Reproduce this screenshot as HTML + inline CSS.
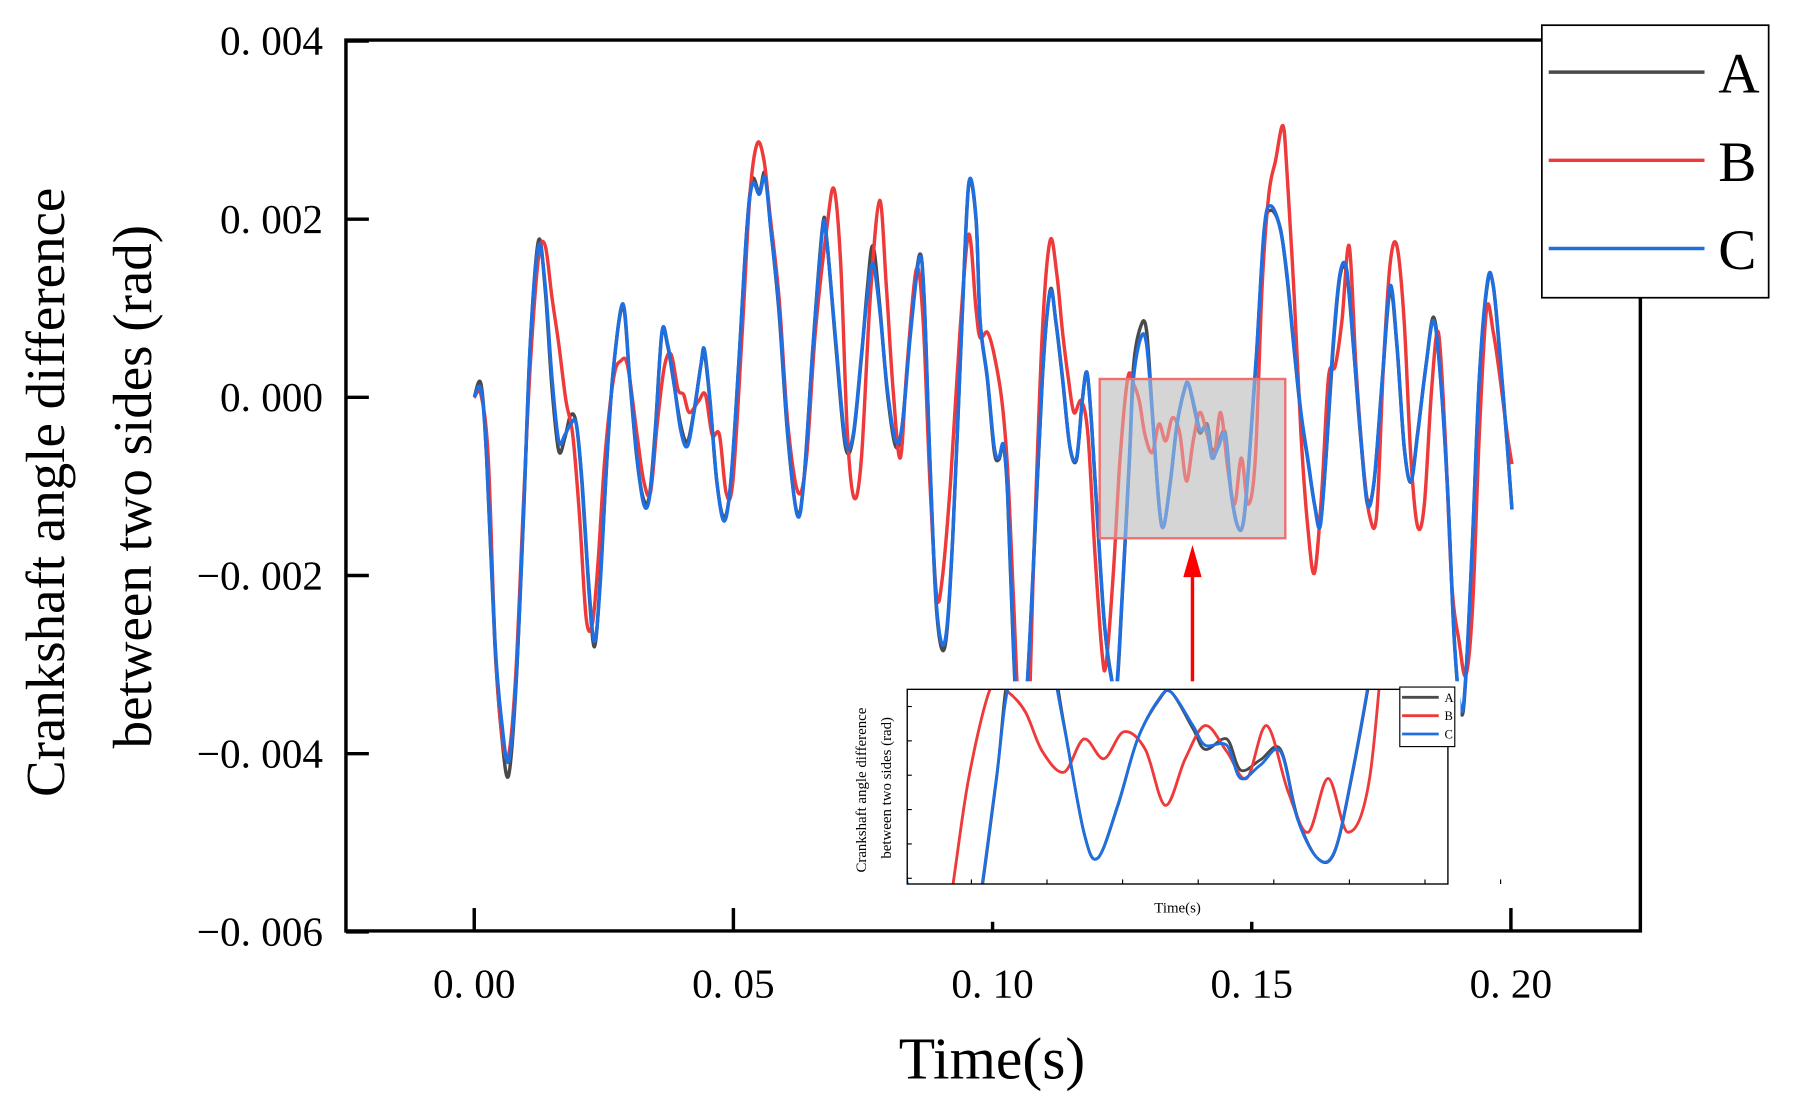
<!DOCTYPE html>
<html><head><meta charset="utf-8"><style>
html,body{margin:0;padding:0;background:#fff;overflow:hidden;width:1795px;height:1105px;}
svg{display:block;}
text{font-family:"Liberation Serif",serif;fill:#000;}
</style></head><body>
<svg id="chart" width="1795" height="1105" viewBox="0 0 1567 965" preserveAspectRatio="none" xmlns="http://www.w3.org/2000/svg">
<defs>
<clipPath id="plotClip"><rect x="302" y="35" width="1130" height="778"/></clipPath>
<clipPath id="insetClip"><rect x="792" y="602" width="472" height="170"/></clipPath>
</defs>
<g id="main"></g>
<g id="inset"></g>
</svg>
<script>
const timesAC=[0,1.3,2.4,4.0,5.3,6.6,8.0,9.5,10.8,12.4,13.7,15.0,16.3,17.5,18.6,19.7,20.8,22.1,23.2,24.3,25.6,26.9,28.7,30.0,31.4,32.7,33.8,34.9,36.2,37.3,38.4,39.8,41.1,42.4,43.7,44.4,45.5,46.8,48.2,49.5,51.0,52.6,53.7,55.0,56.1,57.2,58.8,60.5,62.3,63.6,65.4,67.2,68.0,69.8,71.6,73.1,74.7,75.8,76.9,78.2,79.7,81.3,82.6,84.2,85.9,86.8,87.9,89.2,90.8,92.3,94.1,95.4,96.8,97.6,99.0,100.3,101.2,102.1,102.9,104.0,105.2,106.5,107.8,109.6,111.1,112.2,113.5,114.9,116.2,117.3,118.2,119.1,120.2,121.5,122.8,123.9,125.0,126.4,127.2,128.6,129.7,130.8,132.1,133.0,134.3,135.6,137.0,137.8,139.2,140.0,141.4,142.3,143.6,144.9,146.0,147.3,148.4,149.5,150.9,152.4,153.7,155.5,156.8,158.1,159.5,160.8,162.1,163.2,164.3,165.7,167.0,168.3,169.6,171.0,172.3,173.6,175.2,176.7,178.0,179.4,180.7,182.0,183.6,185.1,186.4,187.8,189.1,190.4,191.3,192.6,193.9,195.5,196.6,197.9,199.3,200.2];
const seriesC=[0,0.09,-0.68,-2.74,-3.64,-4.09,-3.26,-1.32,0.60,1.70,1.25,0.22,-0.49,-0.42,-0.30,-0.30,-0.94,-2.10,-2.74,-2.10,-0.68,0.35,1.05,0.22,-0.68,-1.20,-1.13,-0.42,0.73,0.60,0.22,-0.36,-0.55,-0.17,0.35,0.54,-0.04,-0.94,-1.39,-0.94,0.35,1.89,2.40,2.28,2.47,1.89,0.99,-0.42,-1.32,-0.94,0.60,1.89,1.76,0.60,-0.49,-0.42,0.48,1.12,1.50,0.99,0.09,-0.49,-0.30,0.73,1.57,1.12,-0.68,-2.35,-2.74,-1.58,0.86,2.40,2.02,0.86,0.22,-0.55,-0.68,-0.53,-1.07,-2.74,-4.02,-3.38,-1.97,0.22,1.18,0.86,0.22,-0.55,-0.68,-0.04,0.28,-0.30,-1.32,-2.48,-3.12,-3.25,-2.22,-0.68,0.22,0.67,0.60,-0.17,-1.20,-1.45,-0.94,-0.30,0.09,0.15,-0.17,-0.36,-0.36,-0.68,-0.55,-0.42,-1.07,-1.45,-1.39,-0.68,0.48,1.89,2.15,1.89,1.38,0.60,-0.17,-0.68,-1.20,-1.45,-0.68,0.60,1.38,1.44,0.60,-0.42,-1.20,-0.94,0.22,1.25,0.60,-0.55,-0.94,-0.42,0.35,0.86,0.22,-1.07,-2.74,-3.51,-3.12,-1.58,0.22,1.31,1.25,0.48,-0.55,-1.26];
const seriesA=[0,0.15,-0.70,-2.80,-3.80,-4.25,-3.30,-1.35,0.58,1.76,1.20,0.10,-0.60,-0.45,-0.20,-0.30,-0.98,-2.15,-2.80,-2.05,-0.70,0.35,1.02,0.20,-0.70,-1.15,-1.10,-0.38,0.72,0.58,0.20,-0.30,-0.50,-0.15,0.35,0.50,-0.06,-0.95,-1.35,-0.95,0.35,1.90,2.45,2.30,2.52,1.90,0.95,-0.45,-1.30,-0.92,0.62,1.92,1.78,0.55,-0.55,-0.45,0.45,1.20,1.70,1.05,0.05,-0.55,-0.30,0.80,1.60,1.10,-0.70,-2.40,-2.80,-1.60,0.85,2.38,2.00,0.85,0.20,-0.60,-0.70,-0.55,-1.10,-2.80,-4.05,-3.40,-2.00,0.20,1.20,0.85,0.20,-0.55,-0.70,-0.04,0.28,-0.30,-1.35,-2.50,-3.10,-3.30,-2.25,-0.70,0.35,0.80,0.75,-0.15,-1.20,-1.45,-0.95,-0.30,0.08,0.15,-0.20,-0.40,-0.30,-0.60,-0.50,-0.40,-1.05,-1.45,-1.40,-0.70,0.45,1.85,2.10,1.90,1.35,0.58,-0.20,-0.70,-1.20,-1.40,-0.70,0.55,1.35,1.40,0.58,-0.45,-1.15,-0.95,0.20,1.20,0.58,-0.55,-0.95,-0.40,0.35,0.90,0.25,-1.05,-2.75,-3.55,-3.15,-1.60,0.20,1.28,1.25,0.45,-0.55,-1.25];
const timesB=[0,1.3,2.7,4.0,5.3,6.6,8.0,9.5,10.8,12.4,13.7,15.0,16.3,17.7,19.0,20.3,21.6,22.8,23.9,25.2,26.9,28.3,29.6,31.4,32.7,34.0,35.3,36.7,38.0,39.3,40.4,41.5,43.3,44.6,45.9,47.3,48.6,49.9,51.7,53.2,54.6,55.9,57.0,58.8,60.5,62.5,64.1,65.8,68.0,69.4,70.7,72.0,73.3,74.7,76.4,78.2,79.5,80.8,82.2,83.5,85.3,86.6,87.9,89.2,90.3,91.9,93.7,95.4,96.8,97.6,99.0,100.3,101.8,102.9,104.0,105.2,106.5,108.0,109.6,111.1,112.4,113.5,114.6,115.7,117.1,118.4,119.7,121.1,121.9,123.3,124.6,126.1,127.2,128.3,129.4,130.8,132.1,133.4,134.7,136.1,137.4,138.7,140.0,141.4,142.7,144.0,145.4,146.7,148.0,149.3,150.7,152.0,153.3,154.6,156.0,156.8,158.2,159.5,160.8,162.1,163.5,164.8,166.1,167.4,168.8,170.1,171.4,172.7,174.1,175.4,176.7,178.0,179.4,180.7,182.0,183.3,184.7,186.0,187.3,188.6,190.0,191.3,192.6,193.9,195.3,196.6,197.9,199.3,200.2];
const seriesB=[0,0.03,-0.68,-2.74,-3.77,-4.02,-3.12,-1.19,0.35,1.57,1.70,1.12,0.60,-0.04,-0.42,-1.32,-2.48,-2.54,-1.84,-0.68,0.22,0.41,0.35,-0.42,-0.94,-1.07,-0.30,0.35,0.48,0.09,0.03,-0.17,-0.04,0.03,-0.42,-0.42,-1.07,-0.94,0.73,2.28,2.85,2.66,2.08,1.12,-0.30,-1.07,-0.68,0.73,1.89,2.34,1.50,-0.42,-1.13,-0.68,1.12,2.21,1.25,0.09,-0.68,0.35,1.44,0.86,-0.94,-2.22,-2.03,-0.94,0.73,1.83,0.99,0.67,0.73,0.48,-0.04,-0.81,-2.22,-3.77,-4.40,-1.71,0.73,1.76,1.38,0.73,0.22,-0.17,-0.04,-0.42,-1.71,-2.86,-2.99,-1.97,-0.68,0.22,0.15,-0.04,-0.42,-0.62,-0.30,-0.49,-0.23,-0.40,-0.94,-0.49,-0.17,-0.42,-0.68,-0.17,-0.81,-1.20,-0.68,-1.20,-0.68,1.25,2.28,2.66,3.05,2.53,1.12,-0.42,-1.45,-1.97,-1.07,0.22,0.35,0.86,1.70,0.35,-0.68,-1.32,-1.32,0.35,1.50,1.70,0.86,-0.68,-1.45,-1.20,0.09,0.73,-0.42,-2.10,-2.74,-3.12,-2.36,-0.42,0.99,0.73,0.22,-0.42,-0.75];
const xTicks=[0,50,100,150,200];
const xTickLabels=["0. 00","0. 05","0. 10","0. 15","0. 20"];
const yTicks=[4,2,0,-2,-4,-6];
const yTickLabels=["0. 004","0. 002","0. 000","\u22120. 002","\u22120. 004","\u22120. 006"];
const legendNames=["A","B","C"];
const colors={A:"#4a4a4a",B:"#ee3a3a",C:"#1f6fe0"};

const NS="http://www.w3.org/2000/svg";
function mk(tag,attrs,parent){const e=document.createElementNS(NS,tag);for(const k in attrs)e.setAttribute(k,attrs[k]);parent.appendChild(e);return e;}
function pathFrom(ts,vs,sx,sy){
  const n=Math.min(ts.length,vs.length);const p=[];
  for(let i=0;i<n;i++)p.push([sx(ts[i]),sy(vs[i])]);
  let d="M"+p[0][0].toFixed(2)+","+p[0][1].toFixed(2);
  for(let i=0;i<n-1;i++){
    const p0=p[Math.max(0,i-1)],p1=p[i],p2=p[i+1],p3=p[Math.min(n-1,i+2)];
    const c1=[p1[0]+(p2[0]-p0[0])/6,p1[1]+(p2[1]-p0[1])/6];
    const c2=[p2[0]-(p3[0]-p1[0])/6,p2[1]-(p3[1]-p1[1])/6];
    d+=" C"+c1[0].toFixed(2)+","+c1[1].toFixed(2)+" "+c2[0].toFixed(2)+","+c2[1].toFixed(2)+" "+p2[0].toFixed(2)+","+p2[1].toFixed(2);
  }
  return d;
}
const X0=302,X1=1432,Y0=35,Y1=813;
const sx=t=>414+(t-0)*(1319-414)/200;
const sy=v=>347-(v)*(813-35)/10;
const main=document.getElementById('main');

const hl=mk('rect',{x:960,y:331,width:162,height:139,fill:'#d4d4d4',stroke:'#f07070','stroke-width':2},main);



const gS=mk('g',{'clip-path':'url(#plotClip)'},main);


const sA=mk('path',{d:pathFrom(timesAC,seriesA,sx,sy),fill:'none',stroke:colors.A,'stroke-width':3},gS);


const sB=mk('path',{d:pathFrom(timesB,seriesB,sx,sy),fill:'none',stroke:colors.B,'stroke-width':3},gS);


const sC=mk('path',{d:pathFrom(timesAC,seriesC,sx,sy),fill:'none',stroke:colors.C,'stroke-width':3},gS);



const hl2=mk('rect',{x:960,y:331,width:162,height:139,fill:'#d8d8d8','fill-opacity':0.45,stroke:'#f07070','stroke-width':2},main);



const fr=mk('path',{d:`M${X0},${Y0} L${X1},${Y0} L${X1},${Y1} L${X0},${Y1} Z`,fill:'none',stroke:'#000','stroke-width':3},main);


xTicks.forEach((t,i)=>{
  const tk=mk('line',{x1:sx(t),x2:sx(t),y1:Y1,y2:Y1-20,stroke:'#000','stroke-width':3},main);
  
  
  const lb=mk('text',{x:sx(t),y:871,'text-anchor':'middle','font-size':36},main);
  lb.textContent=xTickLabels[i];
  
  
});
yTicks.forEach((v,i)=>{
  const tk=mk('line',{x1:X0,x2:X0+20,y1:sy(v),y2:sy(v),stroke:'#000','stroke-width':3},main);
  
  
  const lb=mk('text',{x:282,y:sy(v)+12,'text-anchor':'end','font-size':36},main);
  lb.textContent=yTickLabels[i];
  
  
});
const xt=mk('text',{x:866,y:942,'text-anchor':'middle','font-size':52},main);
xt.textContent="Time(s)";


const yt1=mk('text',{x:0,y:0,'text-anchor':'middle','font-size':48,transform:'translate(56,430) rotate(-90)'},main);
yt1.textContent="Crankshaft angle difference";


const yt2=mk('text',{x:0,y:0,'text-anchor':'middle','font-size':48,transform:'translate(132,425) rotate(-90)'},main);
yt2.textContent="between two sides (rad)";



const lg=mk('g',{},main);


mk('rect',{x:1346,y:22,width:198,height:238,fill:'#fff',stroke:'#000','stroke-width':1.5},lg);
legendNames.forEach((n,i)=>{
  const y=63+i*77;
  const ln=mk('line',{x1:1352,x2:1488,y1:y,y2:y,stroke:colors[n],'stroke-width':3},lg);
  
  
  const tx=mk('text',{x:1500,y:y+18,'font-size':50},lg);
  tx.textContent=n;
  
  
});

const ar=mk('line',{x1:1041,x2:1041,y1:602,y2:500,stroke:'#ff0000','stroke-width':3},main);


const ah=mk('polygon',{points:'1041,476 1033,504 1049,504',fill:'#ff0000'},main);



const inset=document.getElementById('inset');
const IX0=792,IX1=1264,IY0=602,IY1=772;
mk('rect',{x:735,y:595,width:540,height:210,fill:'#fff'},inset);
const isx=t=>IX0+(t-120.6)*(IX1-IX0)/35.2;
const isy=v=>IY0+(0.18-v)*(IY1-IY0)/1.88;
const gI=mk('g',{'clip-path':'url(#insetClip)'},inset);
const iA=mk('path',{d:pathFrom(timesAC,seriesA,isx,isy),fill:'none',stroke:colors.A,'stroke-width':2.5},gI);


const iB=mk('path',{d:pathFrom(timesB,seriesB,isx,isy),fill:'none',stroke:colors.B,'stroke-width':2.5},gI);


const iC=mk('path',{d:pathFrom(timesAC,seriesC,isx,isy),fill:'none',stroke:colors.C,'stroke-width':2.5},gI);


const ifr=mk('rect',{x:IX0,y:IY0,width:IX1-IX0,height:IY1-IY0,fill:'none',stroke:'#000','stroke-width':1.2},inset);


for(let k=0;k<8;k++){const x=IX0+56+k*66;mk('line',{x1:x,x2:x,y1:IY1,y2:IY1-4,stroke:'#000','stroke-width':1},inset);}
for(let k=0;k<6;k++){const y=IY0+15+k*30;mk('line',{x1:IX0,x2:IX0+4,y1:y,y2:y,stroke:'#000','stroke-width':1},inset);}
const ixt=mk('text',{x:1028,y:797,'text-anchor':'middle','font-size':13},inset);
ixt.textContent="Time(s)";


const iy1=mk('text',{x:0,y:0,'text-anchor':'middle','font-size':13,transform:'translate(756,690) rotate(-90)'},inset);
iy1.textContent="Crankshaft angle difference";


const iy2=mk('text',{x:0,y:0,'text-anchor':'middle','font-size':13,transform:'translate(778,688) rotate(-90)'},inset);
iy2.textContent="between two sides (rad)";


const ilg=mk('g',{},inset);


mk('rect',{x:1222,y:600,width:48,height:52,fill:'#fff',stroke:'#000','stroke-width':1},ilg);
legendNames.forEach((n,i)=>{
  const y=609+i*16;
  mk('line',{x1:1224,x2:1256,y1:y,y2:y,stroke:colors[n],'stroke-width':2.5},ilg);
  const tx=mk('text',{x:1261,y:y+4,'font-size':11},ilg);
  tx.textContent=n;
  
  
});
</script>
</body></html>
